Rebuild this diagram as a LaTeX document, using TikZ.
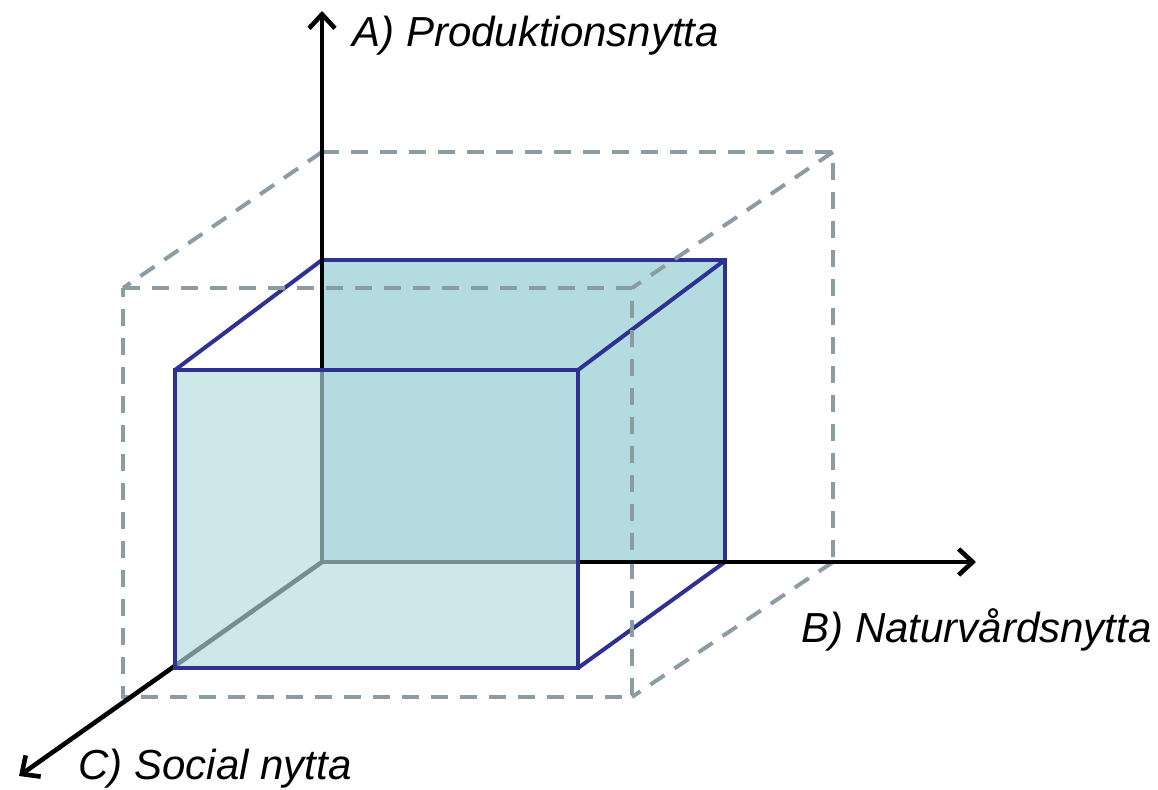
\documentclass[tikz,border=0pt]{standalone}
\usepackage{fontspec}
\setmainfont{Liberation Sans}
\usetikzlibrary{arrows.meta}
\definecolor{boxblue}{HTML}{2E3192}
\definecolor{boxfill}{HTML}{B4DBDF}
\definecolor{dashgrey}{HTML}{8C9CA3}
\tikzset{
  axis/.style={line width=2.3pt, -{Straight Barb[length=7pt,width=13pt,line width=2.3pt]}},
  edge/.style={draw=boxblue, line width=2pt, line join=miter},
  bound/.style={draw=dashgrey, line width=2pt, dash pattern=on 8.5pt off 6pt},
  axislabel/.style={anchor=base west, inner sep=0pt, font=\fontsize{21}{25}\selectfont\itshape}
}
\begin{document}
\begin{tikzpicture}[x=0.5pt,y=-0.5pt]
  \useasboundingbox (0,0) rectangle (1158,790);

  % Axis ends
  \coordinate (O) at (322,562);
  \coordinate (Atip) at (322,11);
  \coordinate (Btip) at (976,562);
  \coordinate (Ctip) at (19,776);

  % Outer box (dashed)
  \coordinate (o1) at (322,152);
  \coordinate (o2) at (833,152);
  \coordinate (o3) at (833,562);
  \coordinate (o4) at (123,288);
  \coordinate (o5) at (632,288);
  \coordinate (o6) at (632,697);
  \coordinate (o7) at (123,697);

  % Inner box
  \coordinate (b1) at (322,260);
  \coordinate (b2) at (725,260);
  \coordinate (b3) at (725,562);
  \coordinate (f1) at (175,370);
  \coordinate (f2) at (578,370);
  \coordinate (f3) at (578,668);
  \coordinate (f4) at (175,668);

  % Back face
  \filldraw[edge, fill=boxfill] (b1) -- (b2) -- (b3) -- (O) -- cycle;
  \draw[edge] (b1) -- (f1);
  \draw[edge] (b2) -- (f2);
  \draw[edge] (b3) -- (f3);

  % Dashed outer box
  \draw[bound] (o1) -- (o2) -- (o3);
  \draw[bound] (o4) -- (o5) -- (o6) -- (o7) -- cycle;
  \draw[bound] (o1) -- (o4);
  \draw[bound] (o2) -- (o5);
  \draw[bound] (o3) -- (o6);

  % Axes
  \draw[axis] (O) -- (Atip);
  \draw[axis] (O) -- (Btip);
  \draw[axis] (O) -- (Ctip);

  % Front face
  \fill[boxfill, fill opacity=0.65] (f1) rectangle (f3);
  \draw[edge] (f1) -- (f2) -- (f3) -- (f4) -- cycle;

  % Labels
  \node[axislabel] (labA) at (352,47) {A) Produktionsnytta};
  \node[axislabel] (labB) at (801,643) {B) Naturvårdsnytta};
  \node[axislabel] (labC) at (78,780) {C) Social nytta};
\end{tikzpicture}
\end{document}
